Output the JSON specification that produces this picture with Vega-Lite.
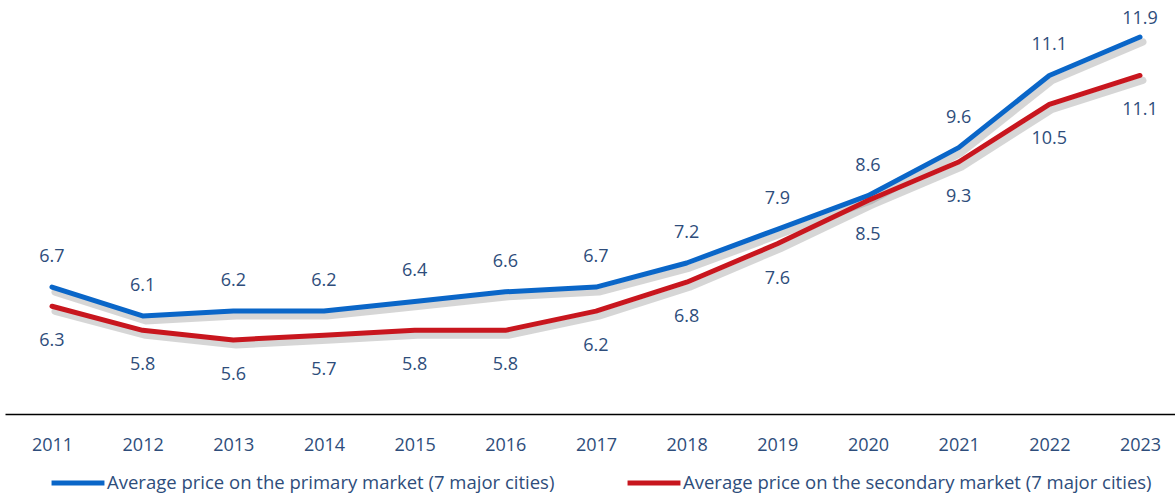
{
  "$schema": "https://vega.github.io/schema/vega-lite/v6.json",
  "width": 1170,
  "height": 409,
  "padding": {"left": 5, "top": 5, "right": 0, "bottom": 79},
  "autosize": {"type": "none"},
  "background": "white",
  "config": {"view": {"stroke": null}, "font": "Open Sans"},
  "data": {"values": [
    {"year": 2011, "series": "Average price on the primary market (7 major cities)", "price": 6.7},
    {"year": 2012, "series": "Average price on the primary market (7 major cities)", "price": 6.1},
    {"year": 2013, "series": "Average price on the primary market (7 major cities)", "price": 6.2},
    {"year": 2014, "series": "Average price on the primary market (7 major cities)", "price": 6.2},
    {"year": 2015, "series": "Average price on the primary market (7 major cities)", "price": 6.4},
    {"year": 2016, "series": "Average price on the primary market (7 major cities)", "price": 6.6},
    {"year": 2017, "series": "Average price on the primary market (7 major cities)", "price": 6.7},
    {"year": 2018, "series": "Average price on the primary market (7 major cities)", "price": 7.2},
    {"year": 2019, "series": "Average price on the primary market (7 major cities)", "price": 7.9},
    {"year": 2020, "series": "Average price on the primary market (7 major cities)", "price": 8.6},
    {"year": 2021, "series": "Average price on the primary market (7 major cities)", "price": 9.6},
    {"year": 2022, "series": "Average price on the primary market (7 major cities)", "price": 11.1},
    {"year": 2023, "series": "Average price on the primary market (7 major cities)", "price": 11.9},
    {"year": 2011, "series": "Average price on the secondary market (7 major cities)", "price": 6.3},
    {"year": 2012, "series": "Average price on the secondary market (7 major cities)", "price": 5.8},
    {"year": 2013, "series": "Average price on the secondary market (7 major cities)", "price": 5.6},
    {"year": 2014, "series": "Average price on the secondary market (7 major cities)", "price": 5.7},
    {"year": 2015, "series": "Average price on the secondary market (7 major cities)", "price": 5.8},
    {"year": 2016, "series": "Average price on the secondary market (7 major cities)", "price": 5.8},
    {"year": 2017, "series": "Average price on the secondary market (7 major cities)", "price": 6.2},
    {"year": 2018, "series": "Average price on the secondary market (7 major cities)", "price": 6.8},
    {"year": 2019, "series": "Average price on the secondary market (7 major cities)", "price": 7.6},
    {"year": 2020, "series": "Average price on the secondary market (7 major cities)", "price": 8.5},
    {"year": 2021, "series": "Average price on the secondary market (7 major cities)", "price": 9.3},
    {"year": 2022, "series": "Average price on the secondary market (7 major cities)", "price": 10.5},
    {"year": 2023, "series": "Average price on the secondary market (7 major cities)", "price": 11.1}
  ]},
  "encoding": {
    "x": {
      "field": "year", "type": "quantitative",
      "scale": {"domain": [2010.482, 2023.386], "nice": false, "zero": false},
      "axis": {
        "title": null, "values": [2011,2012,2013,2014,2015,2016,2017,2018,2019,2020,2021,2022,2023],
        "format": "d", "grid": false, "ticks": false,
        "domainColor": "#000000", "domainWidth": 1.5,
        "labelFontSize": 18, "labelColor": "#2E4D7B", "labelPadding": 22,
        "labelFont": "Open Sans"
      }
    },
    "y": {
      "field": "price", "type": "quantitative",
      "scale": {"domain": [4.06, 12.565], "nice": false, "zero": false},
      "axis": null
    }
  },
  "layer": [
    {
      "mark": {"type": "line", "strokeWidth": 7, "color": "#777777", "opacity": 0.3, "xOffset": 3, "yOffset": 5, "strokeCap": "round", "strokeJoin": "round"},
      "encoding": {"detail": {"field": "series"}}
    },
    {
      "mark": {"type": "line", "strokeWidth": 5, "strokeCap": "round", "strokeJoin": "round"},
      "encoding": {
        "color": {
          "field": "series", "type": "nominal",
          "scale": {"domain": ["Average price on the primary market (7 major cities)", "Average price on the secondary market (7 major cities)"], "range": ["#0A66C8", "#C8161E"]},
          "legend": {
            "orient": "none", "legendX": 44, "legendY": 449,
            "direction": "horizontal", "title": null,
            "symbolType": "stroke", "symbolSize": 2800, "symbolStrokeWidth": 5,
            "labelFontSize": 18.5, "labelColor": "#2E4D7B", "labelLimit": 600,
            "labelOffset": 0, "columnPadding": 62, "labelFont": "Open Sans"
          }
        }
      }
    },
    {
      "transform": [{"filter": "datum.series == 'Average price on the primary market (7 major cities)' && datum.year < 2023"}],
      "mark": {"type": "text", "dy": -30, "fontSize": 18, "color": "#2E4D7B"},
      "encoding": {"text": {"field": "price", "type": "quantitative", "format": ".1f"}}
    },
    {
      "transform": [{"filter": "datum.series == 'Average price on the primary market (7 major cities)' && datum.year == 2023"}],
      "mark": {"type": "text", "dy": -18, "fontSize": 18, "color": "#2E4D7B"},
      "encoding": {"text": {"field": "price", "type": "quantitative", "format": ".1f"}}
    },
    {
      "transform": [{"filter": "datum.series == 'Average price on the secondary market (7 major cities)'"}],
      "mark": {"type": "text", "dy": 35, "fontSize": 18, "color": "#2E4D7B"},
      "encoding": {"text": {"field": "price", "type": "quantitative", "format": ".1f"}}
    }
  ]
}
